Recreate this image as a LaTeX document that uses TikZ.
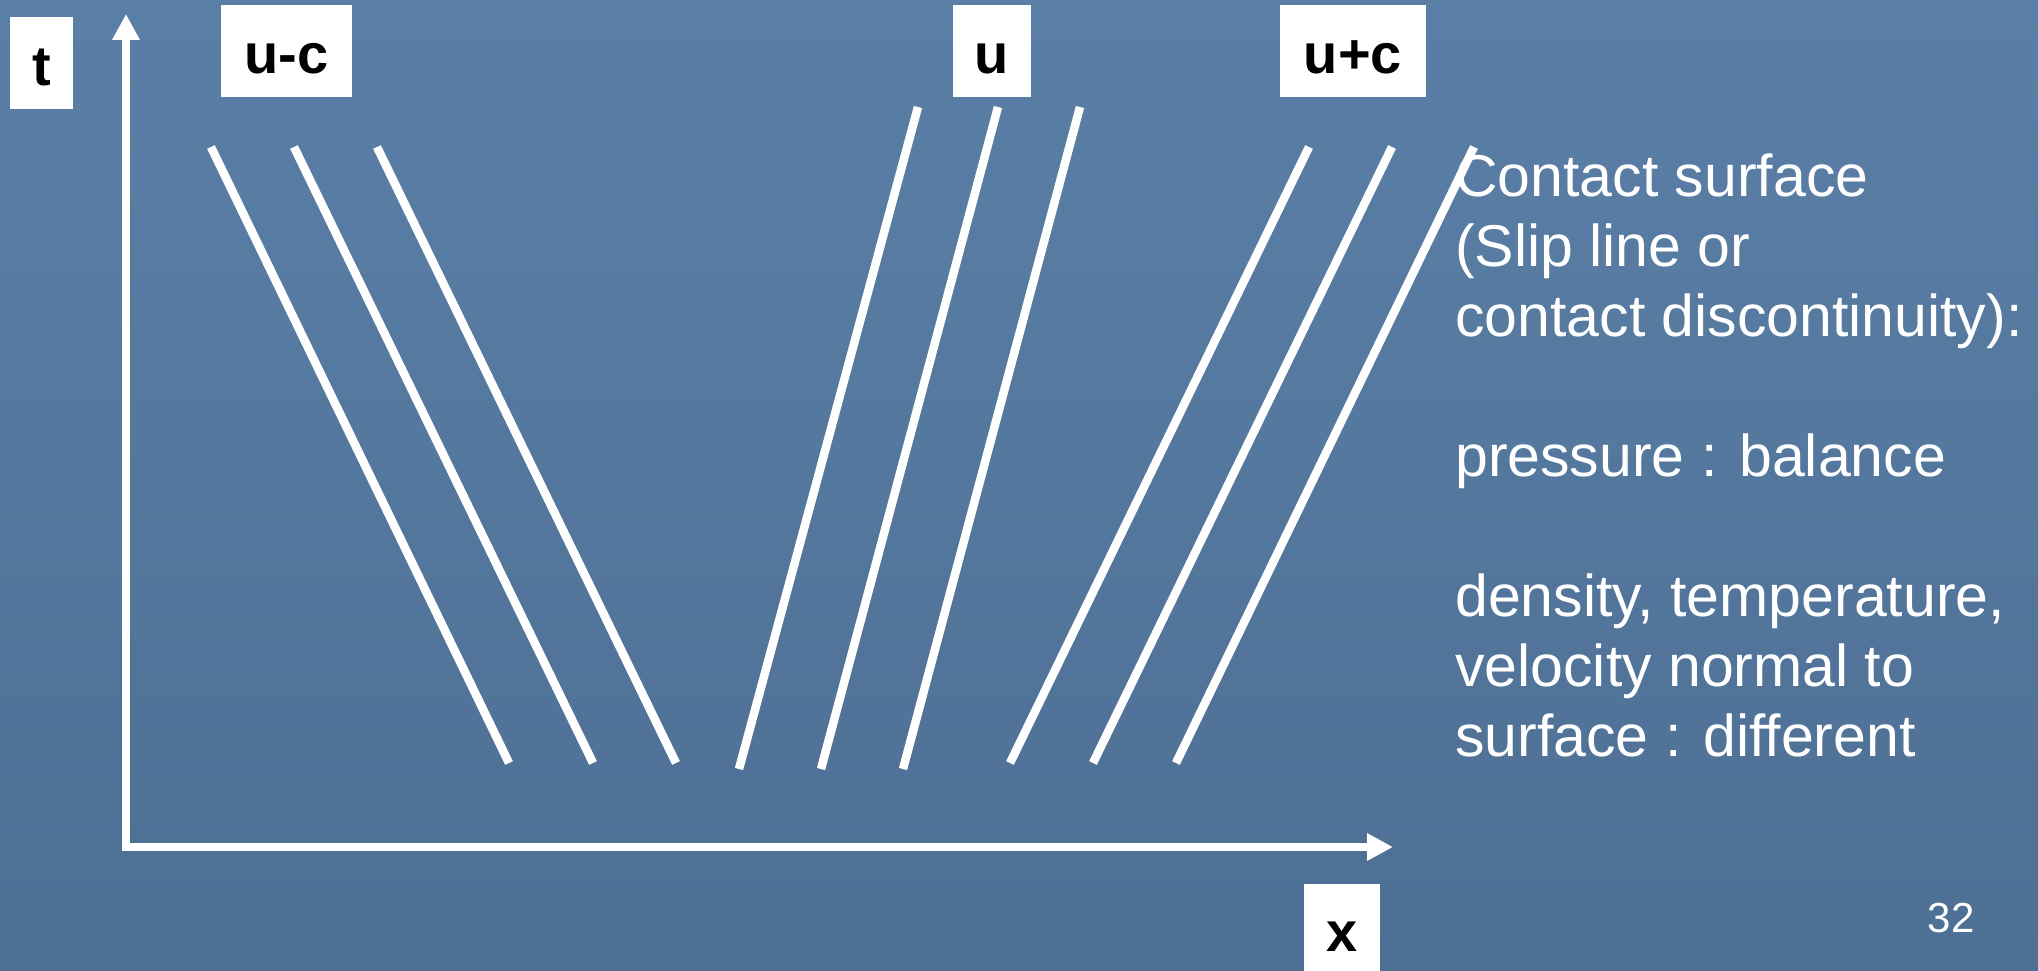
\documentclass[tikz,border=0pt]{standalone}
\usepackage{fontspec}
\setmainfont{Liberation Sans}
\usetikzlibrary{arrows.meta}
\definecolor{bgtop}{RGB}{90,127,166}
\definecolor{bgbot}{RGB}{78,111,148}
\begin{document}
\begin{tikzpicture}[x=1pt,y=-1pt,
  lbl/.style={fill=white, inner sep=0pt, text=black, font=\fontsize{56}{60}\selectfont\bfseries, minimum height=92pt, text height=46pt, text depth=0pt},
  charline/.style={draw=white, line width=8.5pt},
  axisline/.style={draw=white, line width=8.5pt, line join=miter},
  desctext/.style={text=white, inner sep=0pt, align=left, font=\fontsize{59}{70}\selectfont},
  ]
\useasboundingbox (0,0) rectangle (2038,971);
\shade[top color=bgtop, bottom color=bgbot] (0,0) rectangle (2038,971);

% axes
\coordinate (ttip) at (126,14);
\coordinate (orig) at (126,847);
\coordinate (xtip) at (1393,847);
\draw[axisline, {Triangle[length=26pt,width=26pt]}-{Triangle[length=26pt,width=26pt]}] (ttip) -- (orig) -- (xtip);

% labels
\node[lbl, minimum width=63pt] (tlab) at (41.5,63) {t};
\node[lbl, minimum width=131pt] (uclab) at (286.5,51) {u-c};
\node[lbl, minimum width=78pt] (ulab) at (992,51) {u};
\node[lbl, minimum width=146pt] (upclab) at (1353,51) {u+c};
\node[lbl, minimum width=76pt, minimum height=100pt, text height=34pt] (xlab) at (1342,934) {x};

% characteristic lines
\coordinate (a1) at (211,147);  \coordinate (b1) at (509,763);
\coordinate (a2) at (294,147);  \coordinate (b2) at (593,763);
\coordinate (a3) at (377,147);  \coordinate (b3) at (676,763);
\coordinate (a4) at (918,107);  \coordinate (b4) at (739,769);
\coordinate (a5) at (998,107);  \coordinate (b5) at (821,769);
\coordinate (a6) at (1080,107); \coordinate (b6) at (903,769);
\coordinate (a7) at (1309,147); \coordinate (b7) at (1010,763);
\coordinate (a8) at (1392,147); \coordinate (b8) at (1093,763);
\coordinate (a9) at (1474,147); \coordinate (b9) at (1176,763);
\foreach \i in {1,...,9} { \draw[charline] (a\i) -- (b\i); }

% description (base anchor = last line's baseline)
\node[desctext, anchor=base west] (desc) at (1455,756) {Contact surface\\(Slip line or\\contact discontinuity):\\[70pt]pressure : balance\\[70pt]density, temperature,\\velocity normal to\\surface : different};

% page number
\node[text=white, inner sep=0pt, anchor=base, font=\fontsize{42}{50}\selectfont] (pnum) at (1951,932) {32};
\end{tikzpicture}
\end{document}
